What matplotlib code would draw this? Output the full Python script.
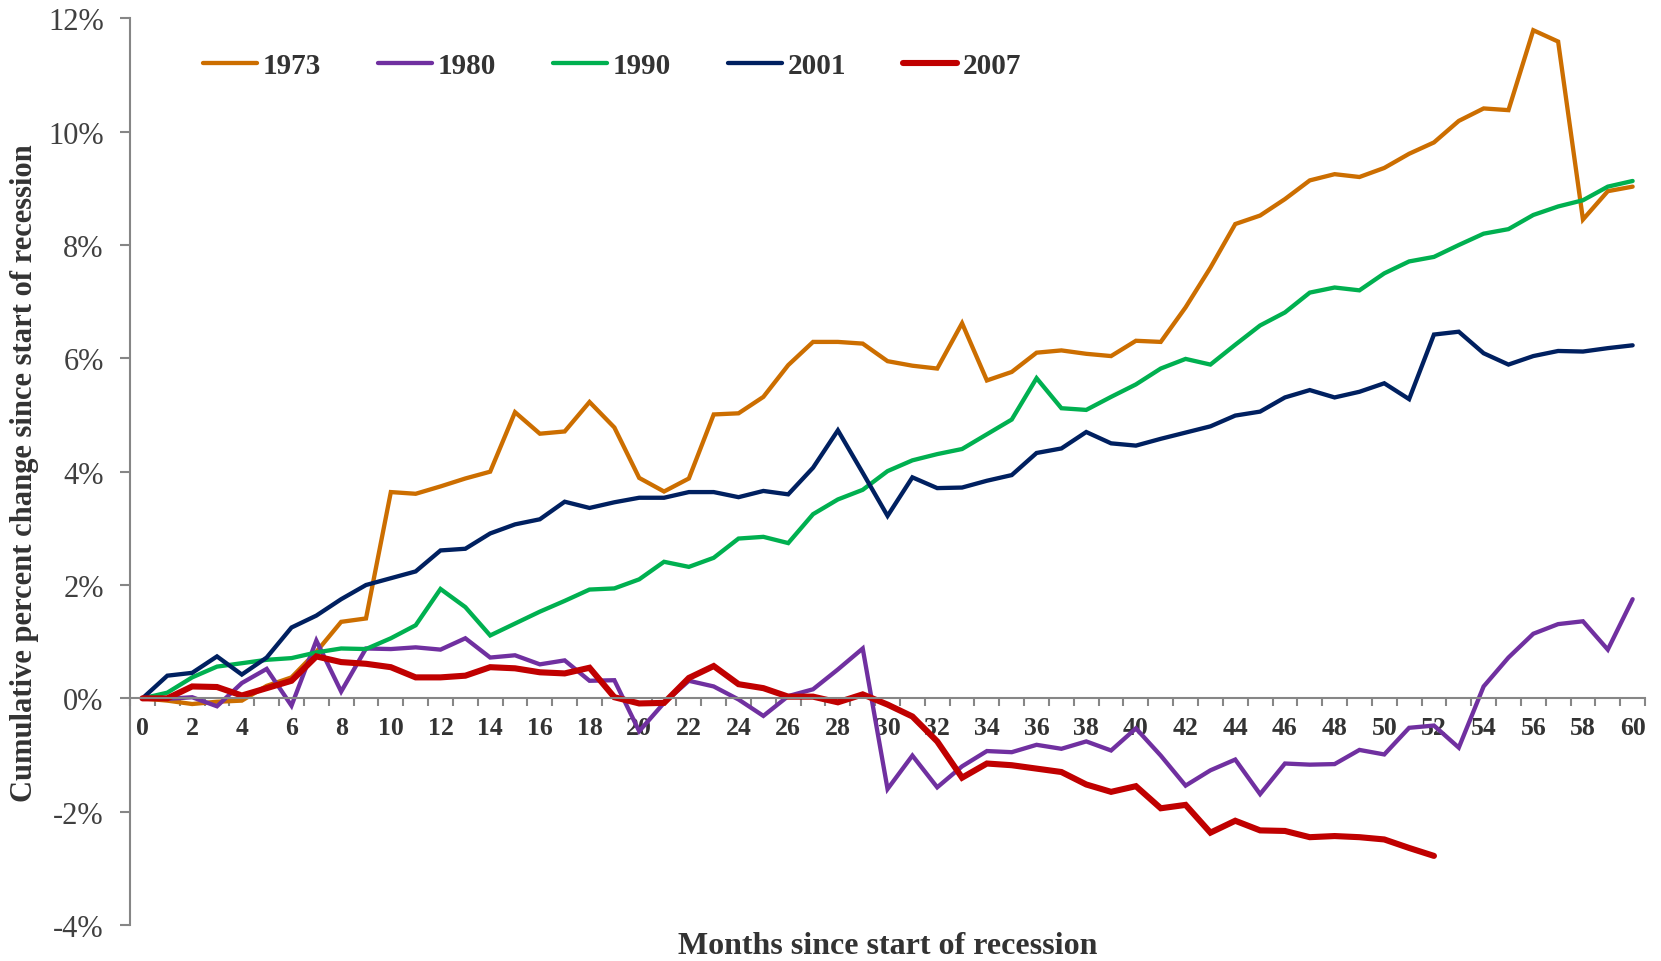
import numpy as np
import matplotlib
matplotlib.use("Agg")
import matplotlib.pyplot as plt
from matplotlib.ticker import FuncFormatter, MultipleLocator

plt.rcParams['font.family'] = ['Liberation Serif', 'DejaVu Serif']
plt.rcParams['axes.unicode_minus'] = False

# cumulative percent change, by months since start of recession
y1973 = [0, -0.04, -0.1, -0.06, -0.04, 0.22, 0.37, 0.82, 1.35, 1.41,
         3.64, 3.61, 3.74, 3.88, 4.0, 5.05, 4.67, 4.71, 5.23, 4.78,
         3.89, 3.65, 3.88, 5.01, 5.03, 5.32, 5.88, 6.29, 6.29, 6.26,
         5.95, 5.87, 5.82, 6.62, 5.61, 5.76, 6.1, 6.14, 6.08, 6.04,
         6.31, 6.29, 6.9, 7.6, 8.37, 8.52, 8.81, 9.14, 9.25, 9.2,
         9.36, 9.61, 9.81, 10.19, 10.41, 10.38, 11.79, 11.59, 8.45, 8.95,
         9.03]
y1980 = [0, -0.01, 0.02, -0.14, 0.27, 0.52, -0.13, 1.02, 0.12, 0.88,
         0.87, 0.9, 0.86, 1.06, 0.72, 0.76, 0.6, 0.67, 0.31, 0.32,
         -0.58, -0.08, 0.31, 0.21, -0.02, -0.31, 0.04, 0.16, 0.51, 0.88,
         -1.6, -1.01, -1.57, -1.2, -0.93, -0.95, -0.82, -0.89, -0.76, -0.92,
         -0.53, -1.01, -1.54, -1.27, -1.08, -1.69, -1.15, -1.17, -1.16, -0.91,
         -0.99, -0.52, -0.48, -0.87, 0.21, 0.72, 1.14, 1.31, 1.36, 0.86,
         1.75]
y1990 = [0, 0.1, 0.37, 0.56, 0.62, 0.68, 0.71, 0.81, 0.88, 0.87,
         1.06, 1.29, 1.93, 1.61, 1.11, 1.32, 1.53, 1.72, 1.92, 1.94,
         2.1, 2.41, 2.32, 2.48, 2.82, 2.85, 2.74, 3.25, 3.51, 3.68,
         4.01, 4.2, 4.31, 4.4, 4.66, 4.92, 5.65, 5.12, 5.09, 5.32,
         5.54, 5.82, 5.99, 5.89, 6.24, 6.58, 6.81, 7.16, 7.25, 7.2,
         7.5, 7.71, 7.79, 8.0, 8.2, 8.28, 8.53, 8.68, 8.79, 9.03,
         9.13]
y2001 = [0, 0.4, 0.45, 0.74, 0.42, 0.72, 1.25, 1.46, 1.75, 2.0,
         2.12, 2.24, 2.61, 2.64, 2.91, 3.07, 3.16, 3.47, 3.36, 3.46,
         3.54, 3.54, 3.64, 3.64, 3.55, 3.66, 3.6, 4.07, 4.73, 3.98,
         3.22, 3.9, 3.71, 3.72, 3.84, 3.94, 4.33, 4.41, 4.7, 4.5,
         4.46, 4.58, 4.69, 4.8, 4.99, 5.06, 5.31, 5.44, 5.31, 5.41,
         5.56, 5.28, 6.42, 6.47, 6.09, 5.89, 6.04, 6.13, 6.12, 6.18,
         6.23]
y2007 = [0, 0, 0.21, 0.2, 0.05, 0.18, 0.31, 0.74, 0.64, 0.61,
         0.55, 0.37, 0.37, 0.4, 0.55, 0.53, 0.46, 0.44, 0.54, 0.02,
         -0.09, -0.08, 0.36, 0.57, 0.25, 0.18, 0.03, 0.03, -0.07, 0.07,
         -0.11, -0.32, -0.76, -1.4, -1.15, -1.18, -1.24, -1.3, -1.52, -1.65,
         -1.55, -1.94, -1.88, -2.37, -2.16, -2.33, -2.34, -2.45, -2.43, -2.45,
         -2.49, -2.64, -2.78]

series = [("1973", y1973, "#CC6E00", 3.1),
          ("1980", y1980, "#7030A0", 3.1),
          ("1990", y1990, "#00B050", 3.1),
          ("2001", y2001, "#002060", 3.1),
          ("2007", y2007, "#C00000", 4.4)]

fig = plt.figure(figsize=(16.61, 9.62), dpi=100)
ax = fig.add_axes([0.0783, 0.0374, 0.9121, 0.9425])

for name, vals, col, lw in series:
    ax.plot(np.arange(len(vals)), vals, color=col, lw=lw, label=name,
            solid_capstyle='round', solid_joinstyle='miter')

ax.set_xlim(-0.5, 60.5)
ax.set_ylim(-4, 12)

grey = "#868686"
for s in ['top', 'right']:
    ax.spines[s].set_visible(False)
ax.spines['left'].set_color(grey)
ax.spines['left'].set_linewidth(1.5)
ax.spines['bottom'].set_position(('data', 0))
ax.spines['bottom'].set_color(grey)
ax.spines['bottom'].set_linewidth(1.5)

ax.yaxis.set_major_locator(MultipleLocator(2))
ax.yaxis.set_major_formatter(FuncFormatter(lambda v, p: f"{v:.0f}%"))
ax.tick_params(axis='y', direction='out', length=7, width=1.5, color=grey,
               labelsize=22, labelcolor="#404040", pad=12)

ax.set_xticks(np.arange(0, 61, 2))
ax.set_xticks(np.arange(-0.5, 61, 1), minor=True)
ax.tick_params(axis='x', which='major', length=0, pad=13, labelsize=18.5,
               labelcolor="#333333")
ax.tick_params(axis='x', which='minor', direction='out', length=6, width=1.5,
               color=grey)
for lab in ax.get_xticklabels():
    lab.set_fontweight('bold')

ax.set_xlabel("Months since start of recession", fontsize=23, fontweight='bold',
              color="#333333")
ax.xaxis.set_label_coords(0.5, -0.007)
ax.set_ylabel("Cumulative percent change since start of recession", fontsize=22,
              fontweight='bold', color="#333333")
ax.yaxis.set_label_coords(-0.060, 0.5)

leg = ax.legend(loc='center left', bbox_to_anchor=(0.048, 0.9475), ncol=5,
                frameon=False, handlelength=1.85, handletextpad=0.2,
                columnspacing=1.95, borderpad=0, borderaxespad=0,
                prop={'size': 21, 'weight': 'bold'})
for t in leg.get_texts():
    t.set_color("#333333")

fig.savefig("out.png", dpi=100)
